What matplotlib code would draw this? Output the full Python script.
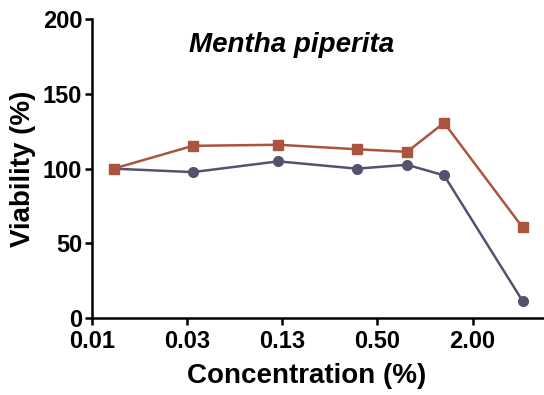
import matplotlib.pyplot as plt
from matplotlib.ticker import FixedLocator, NullLocator

# data
conc = [0.0107, 0.034, 0.118, 0.37, 0.77, 1.32, 4.14]
viab_circle = [100, 97.7, 104.9, 100, 102.6, 95.5, 11.4]
viab_square = [100, 115.3, 116, 113, 111.3, 130.7, 60.7]
tick_vals = [2**-7, 2**-5, 2**-3, 2**-1, 2]
tick_labels = ["0.01", "0.03", "0.13", "0.50", "2.00"]

plt.rcParams['font.family'] = ['Liberation Sans', 'DejaVu Sans']

fig = plt.figure(figsize=(5.44, 3.95), dpi=100)
ax = fig.add_axes([0.169, 0.195, 0.831, 0.756])

ax.plot(conc, viab_circle, color="#57516f", lw=1.8, marker="o", ms=7, zorder=3)
ax.plot(conc, viab_square, color="#ab553f", lw=1.8, marker="s", ms=7, zorder=3)

ax.set_xscale("log", base=2)
ax.set_xlim(2**-7, 2**2.5)
ax.set_ylim(0, 200)
ax.xaxis.set_major_locator(FixedLocator(tick_vals))
ax.xaxis.set_minor_locator(NullLocator())
ax.set_xticklabels(tick_labels)
ax.set_yticks([0, 50, 100, 150, 200])

for s in ["top", "right"]:
    ax.spines[s].set_visible(False)
for s in ["left", "bottom"]:
    ax.spines[s].set_linewidth(1.8)
ax.tick_params(width=1.8, length=5, labelsize=17)
ax.tick_params(axis="x", pad=4)
ax.tick_params(axis="y", pad=2)
for lbl in ax.get_xticklabels() + ax.get_yticklabels():
    lbl.set_fontweight("bold")

ax.set_xlabel("Concentration (%)", fontsize=20, fontweight="bold")
ax.xaxis.set_label_coords(0.474, -0.15)
ax.set_ylabel("Viability (%)", fontsize=20, fontweight="bold", labelpad=5)
ax.text(0.442, 0.915, "Mentha piperita", transform=ax.transAxes, ha="center", va="center",
        fontsize=20, fontweight="bold", style="italic")

fig.savefig("out.png", dpi=100)
